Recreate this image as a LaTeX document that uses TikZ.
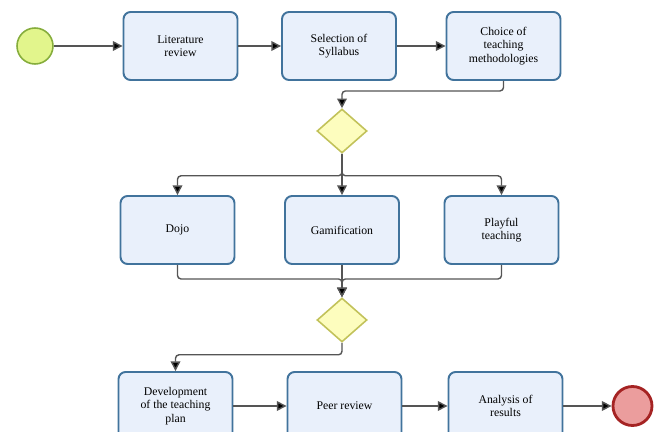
\documentclass[tikz,border=0pt]{standalone}
\usepackage{fontspec}
\setmainfont{Liberation Serif}
\usepackage{tikz}
\usetikzlibrary{shapes.geometric,arrows.meta}

\definecolor{boxfill}{HTML}{E9F0FB}
\definecolor{boxline}{HTML}{41739C}
\definecolor{gwfill}{HTML}{FDFDBE}
\definecolor{gwline}{HTML}{C2C25A}
\definecolor{startfill}{HTML}{E2F58C}
\definecolor{startline}{HTML}{86AD3C}
\definecolor{endfill}{HTML}{EB9D9D}
\definecolor{endline}{HTML}{A52323}
\definecolor{flowline}{HTML}{555555}

\tikzset{
  task/.style={draw=boxline,fill=boxfill,line width=1.1pt,rounded corners=4pt,
    minimum width=2.28cm,minimum height=1.36cm,align=center,
    font=\fontsize{6.7}{7.7}\selectfont},
  gateway/.style={diamond,draw=gwline,fill=gwfill,line width=0.9pt,
    minimum width=1cm,minimum height=0.88cm,inner sep=0pt},
  startev/.style={circle,draw=startline,fill=startfill,line width=0.9pt,
    minimum size=0.72cm,inner sep=0pt},
  endev/.style={circle,draw=endline,fill=endfill,line width=1.6pt,
    minimum size=0.78cm,inner sep=0pt},
  flow/.style={draw=flowline,line width=0.8pt,rounded corners=2pt,
    -{Triangle[length=5.5pt,width=5.5pt,fill=black]}}
}

\begin{document}
\begin{tikzpicture}[x=0.02cm,y=-0.02cm]
\useasboundingbox (0,0) rectangle (657,432);
% first row
\node[startev] (start) at (35,46) {};
\node[task] (lit) at (180.5,46) {Literature\\review};
\node[task] (sel) at (339,46) {Selection of\\Syllabus};
\node[task] (cho) at (503.5,46) {Choice of\\teaching\\methodologies};
% gateways
\node[gateway] (gw1) at (342,131) {};
\node[gateway] (gw2) at (342,320) {};
% methods
\node[task] (dojo) at (177.5,230) {Dojo};
\node[task] (gam) at (342,230) {Gamification};
\node[task] (play) at (501.5,230) {Playful\\teaching};
% last row
\node[task] (dev) at (175.5,406) {Development\\of the teaching\\plan};
\node[task] (peer) at (344.5,406) {Peer review};
\node[task] (ana) at (505.5,406) {Analysis of\\results};
\node[endev] (stop) at (632.5,406) {};

\draw[flow] (start) -- (lit);
\draw[flow] (lit) -- (sel);
\draw[flow] (sel) -- (cho);
\draw[flow] (cho.south) -- ++(0,10) -| (gw1.north);
\draw[flow] (gw1.south) -- ++(0,22) -| (dojo.north);
\draw[flow] (gw1.south) -- ++(0,22) -| (play.north);
\draw[flow] (gw1.south) -- (gam.north);
\draw[flow] (dojo.south) -- ++(0,14) -| (gw2.north);
\draw[flow] (play.south) -- ++(0,14) -| (gw2.north);
\draw[flow] (gam.south) -- (gw2.north);
\draw[flow] (gw2.south) -- ++(0,12) -| (dev.north);
\draw[flow] (dev) -- (peer);
\draw[flow] (peer) -- (ana);
\draw[flow] (ana) -- (stop);
\end{tikzpicture}
\end{document}
